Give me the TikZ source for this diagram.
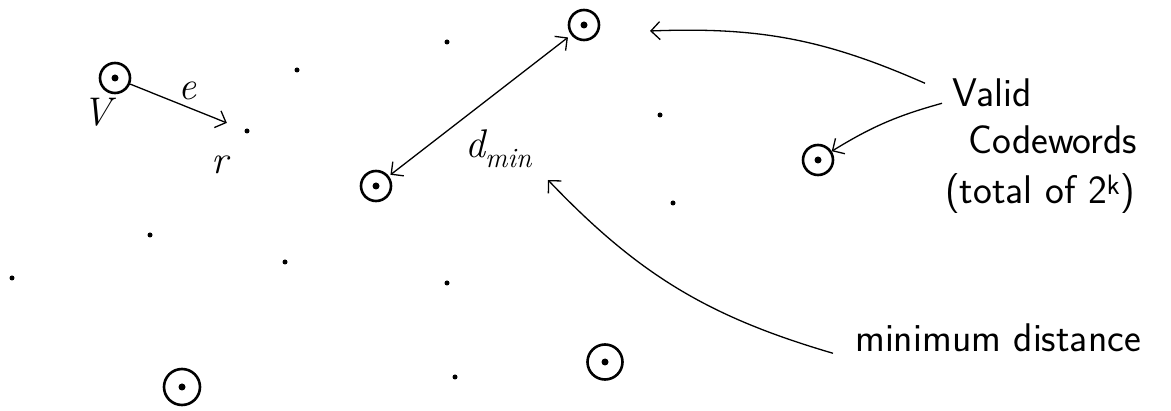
\documentclass[tikz,border=0pt]{standalone}
\usepackage{fontspec}
\usetikzlibrary{arrows.meta}

\begin{document}
\begin{tikzpicture}[x=1pt, y=-1pt, >={Straight Barb[length=9pt,width=18pt]},
  every node/.style={inner sep=0pt}, font=\fontsize{40}{44}\selectfont\itshape,
  codeword/.style={circle, draw, line width=2.6pt, minimum size=30pt,
    path picture={\fill (path picture bounding box.center) circle (3.5pt);}},
  word/.style={circle, fill, minimum size=5pt},
  note/.style={anchor=base west, font=\fontsize{40}{44}\sffamily\selectfont},
  link/.style={->, line width=1.3pt}]
  \useasboundingbox (0,0) rectangle (1171,411);
  % --- codewords ---
  \node[codeword] (v)  at (115,78)  {};
  \node[codeword] (cA) at (584,25)  {};
  \node[codeword] (cB) at (376,186) {};
  \node[codeword] (cC) at (818,160) {};
  \node[codeword, minimum size=36pt] (cD) at (182,387) {};
  \node[codeword, minimum size=35pt] (cE) at (605,362) {};
  % --- other words ---
  \node[word] (r)  at (247,131) {};
  \node[word] (w1) at (297,70)  {};
  \node[word] (w2) at (447,42)  {};
  \node[word] (w3) at (660,115) {};
  \node[word] (w4) at (673,203) {};
  \node[word] (w5) at (150,235) {};
  \node[word] (w6) at (12,278)  {};
  \node[word] (w7) at (285,262) {};
  \node[word] (w8) at (447,283) {};
  \node[word] (w9) at (455,377) {};
  % --- sent word and error ---
  \node (vlab) at (97,112)  {V};
  \node (rlab) at (220,165) {r};
  \draw[link, shorten >=19pt] (v) -- node[midway, above=6pt]{e} (r);
  % --- minimum distance ---
  \draw[link, <->, shorten <=2pt, shorten >=4pt] (cB) -- (cA);
  \node[anchor=base west] (dmin) at (465,158) {d\textsubscript{min}};
  % --- notes ---
  \node[note] (valid)  at (952,107) {Valid};
  \node[note] (cwords) at (968,154) {Codewords};
  \node[note] (total)  at (945,204) {(total of 2\textsuperscript{k})};
  \node[note] (mind)   at (855,352) {minimum distance};
  \coordinate (topTip) at (650,31);
  \coordinate (minTip) at (548,180);
  \draw[link] ([shift={(-27pt,10pt)}]valid.west) to[bend right=13] (topTip);
  \draw[link] ([shift={(-10pt,-10pt)}]valid.west) to[bend right=8] (cC);
  \draw[link] ([shift={(-22pt,-15pt)}]mind.west) to[bend left=15] (minTip);
\end{tikzpicture}
\end{document}
